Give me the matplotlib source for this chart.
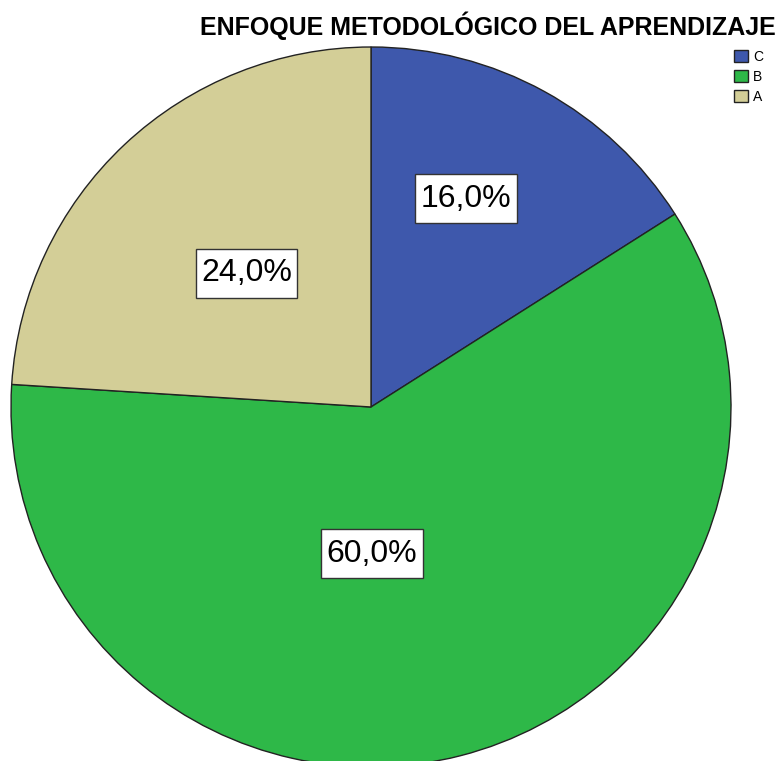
import matplotlib.pyplot as plt
from matplotlib.patches import Rectangle

categories = ['C', 'B', 'A']
values = [16.0, 60.0, 24.0]
colors = ['#3E58AC', '#2EB848', '#D3CE97']
# where each percentage box sits, in pie radius units from the centre
label_pos = [(0.264, 0.578), (0.003, -0.407), (-0.346, 0.371)]

plt.rcParams['font.family'] = ['Liberation Sans', 'DejaVu Sans']

fig = plt.figure(figsize=(7.80, 7.61), dpi=100)
ax = fig.add_axes([11 / 780, -6 / 761, 720 / 780, 720 / 761])

wedges, _ = ax.pie(values, colors=colors, startangle=90, counterclock=False,
                   wedgeprops=dict(edgecolor='#222222', linewidth=1.0))
ax.set_xlim(-1, 1)
ax.set_ylim(-1, 1)
ax.set_aspect('equal')
ax.axis('off')

texts = []
for v, (x, y) in zip(values, label_pos):
    t = ax.text(x, y, f'{v:.1f}%'.replace('.', ','), ha='center', va='center',
                fontsize=23, zorder=5)
    texts.append(t)

# white boxes behind the labels, a bit taller than matplotlib's own bbox
fig.canvas.draw()
renderer = fig.canvas.get_renderer()
inv = ax.transData.inverted()
for t in texts:
    bb = t.get_window_extent(renderer)
    (x0, y0), (x1, y1) = inv.transform([(bb.x0 - 5.5, bb.y0 - 9.5),
                                        (bb.x1 + 5.5, bb.y1 + 9.5)])
    ax.add_patch(Rectangle((x0, y0), x1 - x0, y1 - y0, facecolor='white',
                           edgecolor='#333333', linewidth=1.0, zorder=4))

fig.text(488 / 780, 1 - 35 / 761, 'ENFOQUE METODOLÓGICO DEL APRENDIZAJE',
         ha='center', va='baseline', fontsize=18, fontweight='bold')

fig.legend(wedges, categories, loc='upper left',
           bbox_to_anchor=(734 / 780, 1 - 50 / 761), frameon=False,
           fontsize=10, handlelength=1.0, handleheight=1.0,
           handletextpad=0.35, labelspacing=0.43, borderpad=0, borderaxespad=0)

fig.savefig('out.png', dpi=100)
